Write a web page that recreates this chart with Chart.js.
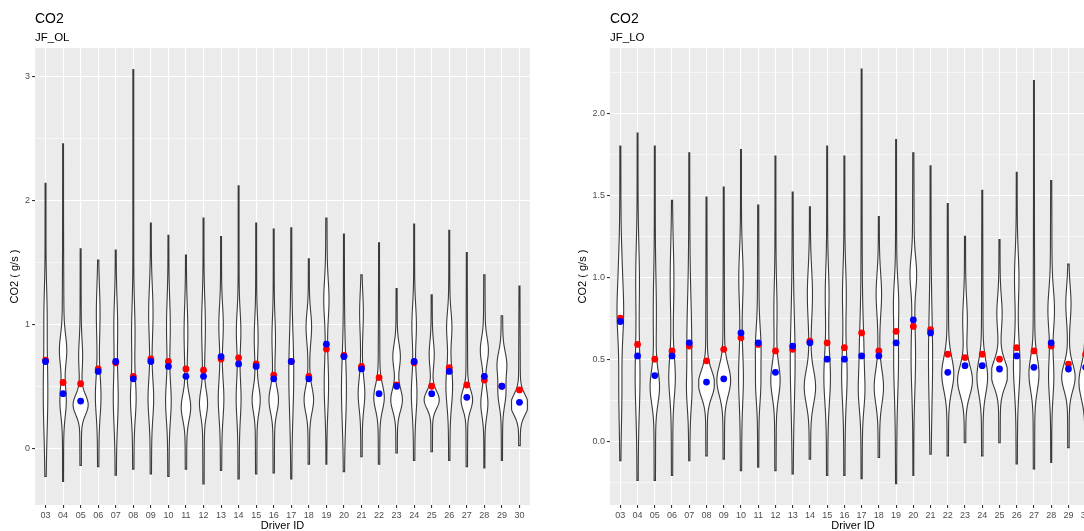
<!DOCTYPE html>
<html>
<head>
<meta charset="utf-8">
<script src="https://cdn.jsdelivr.net/npm/chart.js@4.4.1/dist/chart.umd.min.js"></script>
<style>
  html, body { margin: 0; padding: 0; background: #fff; overflow: hidden; width: 1084px; height: 531px; }
  canvas { position: absolute; top: 0; }
  #chartOL { left: 0; }
  #chartLO { left: 560px; }
</style>
</head>
<body>
<canvas id="chartOL" width="545" height="531"></canvas>
<canvas id="chartLO" width="560" height="531"></canvas>
<script>
// driver ids on the x axis (same for both panels)
const drivers = ['03','04','05','06','07','08','09','10','11','12','13','14','15','16','17',
                 '18','19','20','21','22','23','24','25','26','27','28','29','30'];

// JF_OL panel
const olMin = [-0.23,-0.27,-0.14,-0.15,-0.22,-0.17,-0.21,-0.23,-0.17,-0.29,-0.18,-0.25,-0.21,-0.20,
               -0.25,-0.13,-0.13,-0.19,-0.07,-0.13,-0.04,-0.10,-0.03,-0.10,-0.15,-0.16,-0.10,0.02];
const olMax = [2.14,2.46,1.61,1.52,1.60,3.06,1.82,1.72,1.56,1.86,1.71,2.12,1.82,1.77,
               1.78,1.53,1.86,1.73,1.40,1.66,1.29,1.81,1.24,1.76,1.58,1.40,1.07,1.31];
const olMean = [0.71,0.53,0.52,0.64,0.69,0.58,0.72,0.70,0.64,0.63,0.72,0.73,0.68,0.59,
                0.70,0.58,0.80,0.75,0.66,0.57,0.51,0.69,0.50,0.65,0.51,0.55,0.50,0.47];
const olMedian = [0.70,0.44,0.38,0.62,0.70,0.56,0.70,0.66,0.58,0.58,0.74,0.68,0.66,0.56,
                  0.70,0.56,0.84,0.74,0.64,0.44,0.50,0.70,0.44,0.62,0.41,0.58,0.50,0.37];
// violin bulges: [centre, half width (in categories), spread]
const olShape = [
  [[0.45,0.08,0.3],[1.1,0.05,0.2]],
  [[0.79,0.16,0.12],[0.38,0.14,0.12]],
  [[0.35,0.38,0.08],[0.75,0.07,0.12]],
  [[0.42,0.11,0.15],[1.1,0.07,0.2]],
  [[0.4,0.09,0.2],[1.0,0.07,0.2]],
  [[0.4,0.11,0.15],[0.95,0.06,0.2]],
  [[0.4,0.11,0.15],[1.1,0.09,0.2]],
  [[0.38,0.11,0.15],[1.0,0.07,0.2]],
  [[0.33,0.22,0.1],[0.95,0.07,0.2]],
  [[0.36,0.18,0.1],[1.0,0.07,0.2]],
  [[0.4,0.11,0.15],[1.0,0.09,0.15]],
  [[0.4,0.09,0.15],[0.95,0.09,0.15]],
  [[0.39,0.18,0.1],[0.9,0.07,0.15]],
  [[0.39,0.22,0.1],[0.9,0.06,0.15]],
  [[0.6,0.09,0.3]],
  [[0.39,0.22,0.1],[0.98,0.12,0.12]],
  [[1.2,0.1,0.15],[0.5,0.09,0.2]],
  [[0.47,0.09,0.25]],
  [[0.44,0.14,0.12],[1.1,0.07,0.15]],
  [[0.41,0.25,0.1]],
  [[0.39,0.28,0.09],[0.74,0.17,0.1]],
  [[0.44,0.11,0.15],[1.0,0.09,0.15]],
  [[0.39,0.38,0.07],[0.76,0.1,0.1]],
  [[0.5,0.14,0.15],[0.98,0.11,0.12]],
  [[0.39,0.28,0.08]],
  [[0.79,0.18,0.1],[0.36,0.16,0.1]],
  [[0.68,0.22,0.1],[0.44,0.17,0.1]],
  [[0.35,0.45,0.08]]
];
const olTicks = [0, 0.5, 1, 1.5, 2, 2.5, 3];

// JF_LO panel
const loMin = [-0.12,-0.24,-0.24,-0.21,-0.12,-0.09,-0.11,-0.18,-0.16,-0.18,-0.20,-0.11,-0.21,-0.21,
               -0.23,-0.10,-0.26,-0.21,-0.08,-0.09,-0.01,-0.09,-0.01,-0.14,-0.17,-0.13,-0.04,-0.02];
const loMax = [1.80,1.88,1.80,1.47,1.76,1.49,1.55,1.78,1.44,1.74,1.52,1.43,1.80,1.74,
               2.27,1.37,1.84,1.76,1.68,1.45,1.25,1.53,1.23,1.64,2.20,1.59,1.08,1.20];
const loMean = [0.75,0.59,0.50,0.55,0.58,0.49,0.56,0.63,0.59,0.55,0.56,0.61,0.60,0.57,
                0.66,0.55,0.67,0.70,0.68,0.53,0.51,0.53,0.50,0.57,0.55,0.58,0.47,0.53];
const loMedian = [0.73,0.52,0.40,0.52,0.60,0.36,0.38,0.66,0.60,0.42,0.58,0.60,0.50,0.50,
                  0.52,0.52,0.60,0.74,0.66,0.42,0.46,0.46,0.44,0.52,0.45,0.60,0.44,0.45];
const loShape = [
  [[0.78,0.13,0.15],[0.3,0.05,0.2],[1.05,0.05,0.15]],
  [[0.39,0.09,0.2],[1.0,0.07,0.2]],
  [[0.33,0.22,0.1],[0.8,0.05,0.2]],
  [[0.39,0.14,0.12],[1.0,0.07,0.2]],
  [[0.6,0.09,0.25],[0.3,0.07,0.1]],
  [[0.35,0.42,0.08]],
  [[0.37,0.35,0.09]],
  [[0.39,0.09,0.15],[1.0,0.09,0.15]],
  [[0.57,0.11,0.12],[0.33,0.09,0.1]],
  [[0.37,0.22,0.1],[0.8,0.05,0.15]],
  [[0.49,0.09,0.25]],
  [[0.33,0.28,0.1],[0.9,0.11,0.15]],
  [[0.39,0.14,0.15],[0.9,0.07,0.15]],
  [[0.4,0.11,0.15],[0.9,0.07,0.15]],
  [[0.5,0.09,0.2],[0.29,0.09,0.1]],
  [[0.33,0.22,0.1],[0.9,0.12,0.12]],
  [[0.5,0.09,0.2],[0.86,0.09,0.12]],
  [[1.02,0.14,0.1],[0.5,0.09,0.2]],
  [[0.5,0.07,0.25]],
  [[0.41,0.3,0.1]],
  [[0.37,0.38,0.09],[0.74,0.09,0.12]],
  [[0.39,0.26,0.1]],
  [[0.41,0.44,0.08],[0.78,0.11,0.1]],
  [[0.46,0.14,0.15],[1.0,0.09,0.15]],
  [[0.41,0.24,0.1]],
  [[0.8,0.14,0.12],[0.39,0.11,0.12]],
  [[0.39,0.34,0.08],[0.84,0.11,0.1]],
  [[0.36,0.34,0.1]]
];
const loTicks = [-0.25, 0, 0.25, 0.5, 0.75, 1, 1.25, 1.5, 1.75, 2, 2.25];

Chart.defaults.font.family = "'Liberation Sans', Arial, Helvetica, sans-serif";

// grey ggplot panel
const panelBg = {
  id: 'panelBg',
  beforeDraw(chart) {
    const { ctx, chartArea: a } = chart;
    ctx.save();
    ctx.fillStyle = '#EBEBEB';
    ctx.fillRect(a.left, a.top, a.right - a.left, a.bottom - a.top);
    ctx.restore();
  }
};

// violin outlines, drawn through the chart scales
const violins = {
  id: 'violins',
  beforeDatasetsDraw(chart, args, opts) {
    const { ctx, chartArea: a, scales: { x, y } } = chart;
    ctx.save();
    ctx.beginPath();
    ctx.rect(a.left, a.top, a.right - a.left, a.bottom - a.top);
    ctx.clip();
    opts.min.forEach((lo, i) => {
      const hi = opts.max[i];
      const bumps = opts.shape[i];
      const n = 160;
      const pts = [];
      for (let k = 0; k <= n; k++) {
        const v = lo + (hi - lo) * k / n;
        let w = 0.025 + 0.025 * Math.exp(-0.5 * Math.pow((v - bumps[0][0]) / 0.5, 2));
        bumps.forEach(([c, h, s]) => { w += h * Math.exp(-0.5 * Math.pow((v - c) / s, 2)); });
        pts.push([v, Math.min(w, 0.45)]);
      }
      ctx.beginPath();
      pts.forEach(([v, w], k) => {
        const px = x.getPixelForValue(i + w), py = y.getPixelForValue(v);
        if (k) ctx.lineTo(px, py); else ctx.moveTo(px, py);
      });
      for (let k = pts.length - 1; k >= 0; k--) {
        const [v, w] = pts[k];
        ctx.lineTo(x.getPixelForValue(i - w), y.getPixelForValue(v));
      }
      ctx.closePath();
      ctx.fillStyle = '#FFFFFF';
      ctx.fill();
      ctx.strokeStyle = '#3a3a3a';
      ctx.lineWidth = 1.1;
      ctx.stroke();
    });
    ctx.restore();
  }
};

function makePanel(id, sub, min, max, shape, mean, median, yTicks, yMin, yMax, step, digits, axisWidth, padRight, titlePad) {
  const isMajor = v => Math.abs(v / step - Math.round(v / step)) < 1e-6;
  return new Chart(document.getElementById(id), {
    type: 'scatter',
    data: {
      datasets: [
        {
          label: 'median',
          data: median.map((v, i) => ({ x: i, y: v })),
          backgroundColor: '#0000FF',
          borderWidth: 0,
          pointRadius: 3.4
        },
        {
          label: 'mean',
          data: mean.map((v, i) => ({ x: i, y: v })),
          backgroundColor: '#FF0000',
          borderWidth: 0,
          pointRadius: 3.4
        }
      ]
    },
    options: {
      responsive: false,
      animation: false,
      layout: { padding: { left: 0, right: padRight, top: 0, bottom: 0 } },
      plugins: {
        legend: { display: false },
        tooltip: { enabled: false },
        title: {
          display: true, text: 'CO2', align: 'start', fullSize: false, color: '#000',
          font: { size: 14, weight: 'normal' }, padding: { top: 11, bottom: 2.8 }
        },
        subtitle: {
          display: true, text: sub, align: 'start', fullSize: false, color: '#000',
          font: { size: 11.5 }, padding: { top: 0, bottom: 3.6 }
        },
        violins: { min: min, max: max, shape: shape }
      },
      scales: {
        x: {
          type: 'linear',
          min: -0.6,
          max: 27.6,
          afterBuildTicks: s => { s.ticks = drivers.map((d, i) => ({ value: i })); },
          afterFit: s => { s.height = 26; },
          ticks: {
            autoSkip: false, maxRotation: 0, padding: 2, color: '#4D4D4D',
            font: { size: 9 },
            callback: v => drivers[v]
          },
          grid: { color: '#FFFFFF', lineWidth: 1.1, tickColor: '#333333', tickLength: 3 },
          border: { display: false },
          title: {
            display: true, text: 'Driver ID', color: '#000',
            font: { size: 11, lineHeight: 1 }, padding: { top: 0, bottom: 0 }
          }
        },
        y: {
          type: 'linear',
          min: yMin,
          max: yMax,
          afterBuildTicks: s => { s.ticks = yTicks.map(v => ({ value: v })); },
          afterFit: s => { s.width = axisWidth; },
          ticks: {
            padding: 2, color: '#4D4D4D', font: { size: 9 },
            callback: v => isMajor(v) ? v.toFixed(digits) : ''
          },
          grid: {
            color: '#FFFFFF',
            lineWidth: c => (c.tick && isMajor(c.tick.value)) ? 1.1 : 0.55,
            tickColor: c => (c.tick && isMajor(c.tick.value)) ? '#333333' : 'rgba(0,0,0,0)',
            tickLength: 3
          },
          border: { display: false },
          title: {
            display: true, text: 'CO2 ( g/s )', color: '#000',
            font: { size: 11 }, padding: { top: titlePad, bottom: 0 }
          }
        }
      }
    },
    plugins: [panelBg, violins]
  });
}

makePanel('chartOL', 'JF_OL', olMin, olMax, olShape, olMean, olMedian, olTicks, -0.46, 3.234, 1, 0, 35, 15, 8.7);
makePanel('chartLO', 'JF_LO', loMin, loMax, loShape, loMean, loMedian, loTicks, -0.39, 2.399, 0.5, 1, 50, 24, 16.4);
</script>
</body>
</html>
